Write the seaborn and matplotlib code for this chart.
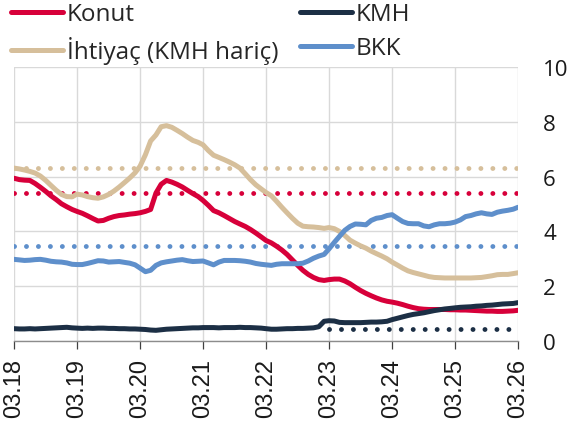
import pandas as pd
import numpy as np
import seaborn as sns
import matplotlib.pyplot as plt
import matplotlib.dates as mdates

# aylık veriler, 03.18 - 03.26
dates = pd.date_range('2018-03-01', '2026-03-01', freq='MS')

konut = [5.94, 5.89, 5.87, 5.86, 5.75, 5.61, 5.46, 5.30, 5.16, 5.01,
         4.90, 4.80, 4.73, 4.66, 4.57, 4.47, 4.38, 4.40, 4.48, 4.54,
         4.58, 4.60, 4.63, 4.65, 4.68, 4.73, 4.80, 5.40, 5.72, 5.86,
         5.80, 5.72, 5.62, 5.50, 5.38, 5.27, 5.13, 4.95, 4.76, 4.68,
         4.58, 4.47, 4.36, 4.27, 4.18, 4.07, 3.94, 3.80, 3.67, 3.58,
         3.46, 3.32, 3.16, 2.96, 2.76, 2.58, 2.43, 2.32, 2.24, 2.21,
         2.24, 2.26, 2.26, 2.19, 2.09, 1.96, 1.84, 1.74, 1.65, 1.57,
         1.50, 1.45, 1.42, 1.38, 1.33, 1.27, 1.22, 1.18, 1.16, 1.15,
         1.15, 1.15, 1.15, 1.14, 1.14, 1.13, 1.13, 1.12, 1.11, 1.10,
         1.09, 1.09, 1.08, 1.08, 1.09, 1.10, 1.12]

ihtiyac = [6.31, 6.28, 6.24, 6.19, 6.13, 6.02, 5.86, 5.68, 5.50, 5.35,
           5.27, 5.26, 5.36, 5.33, 5.27, 5.23, 5.21, 5.26, 5.35, 5.47,
           5.62, 5.78, 5.95, 6.14, 6.38, 6.80, 7.30, 7.52, 7.82, 7.86,
           7.80, 7.69, 7.57, 7.44, 7.32, 7.25, 7.16, 6.95, 6.78, 6.70,
           6.62, 6.53, 6.43, 6.31, 6.10, 5.89, 5.70, 5.55, 5.42, 5.30,
           5.10, 4.88, 4.68, 4.48, 4.30, 4.19, 4.17, 4.16, 4.14, 4.11,
           4.14, 4.10, 4.00, 3.85, 3.68, 3.57, 3.47, 3.39, 3.28, 3.19,
           3.10, 3.00, 2.88, 2.77, 2.66, 2.56, 2.50, 2.45, 2.40, 2.35,
           2.32, 2.31, 2.30, 2.30, 2.30, 2.30, 2.30, 2.30, 2.31, 2.32,
           2.35, 2.38, 2.42, 2.43, 2.43, 2.46, 2.49]

kmh = [0.45, 0.44, 0.44, 0.45, 0.44, 0.45, 0.46, 0.47, 0.48, 0.49,
       0.50, 0.48, 0.47, 0.46, 0.47, 0.46, 0.47, 0.47, 0.46, 0.46,
       0.45, 0.45, 0.44, 0.44, 0.43, 0.42, 0.40, 0.39, 0.41, 0.43,
       0.44, 0.45, 0.46, 0.47, 0.48, 0.48, 0.49, 0.49, 0.49, 0.48,
       0.49, 0.49, 0.49, 0.50, 0.49, 0.49, 0.48, 0.47, 0.45, 0.43,
       0.43, 0.44, 0.45, 0.45, 0.46, 0.46, 0.47, 0.48, 0.52, 0.72,
       0.74, 0.73, 0.68, 0.67, 0.67, 0.67, 0.67, 0.68, 0.69, 0.69,
       0.70, 0.72, 0.78, 0.83, 0.88, 0.93, 0.97, 1.00, 1.03, 1.07,
       1.11, 1.14, 1.17, 1.19, 1.21, 1.23, 1.24, 1.25, 1.27, 1.28,
       1.30, 1.31, 1.33, 1.35, 1.36, 1.37, 1.40]

bkk = [2.98, 2.96, 2.94, 2.95, 2.97, 2.98, 2.95, 2.91, 2.89, 2.88,
       2.85, 2.80, 2.79, 2.79, 2.83, 2.88, 2.93, 2.92, 2.88, 2.89,
       2.90, 2.87, 2.84, 2.78, 2.66, 2.53, 2.58, 2.76, 2.85, 2.89,
       2.92, 2.95, 2.97, 2.93, 2.90, 2.91, 2.92, 2.85, 2.78, 2.88,
       2.94, 2.94, 2.94, 2.93, 2.91, 2.88, 2.83, 2.80, 2.78, 2.76,
       2.80, 2.82, 2.82, 2.82, 2.82, 2.84, 2.92, 3.02, 3.10, 3.16,
       3.36, 3.60, 3.82, 4.04, 4.18, 4.27, 4.26, 4.24, 4.40, 4.48,
       4.51, 4.58, 4.61, 4.48, 4.36, 4.29, 4.28, 4.28, 4.20, 4.17,
       4.24, 4.28, 4.28, 4.30, 4.34, 4.42, 4.54, 4.58, 4.64, 4.68,
       4.64, 4.62, 4.70, 4.74, 4.77, 4.81, 4.88]

# ortalamalar (noktalı çizgiler)
avg_konut = 5.39
avg_ihtiyac = 6.33
avg_bkk = 3.48
avg_kmh = 0.43
kmh_avg_start = '2023-03-01'

labels = ['Konut', 'İhtiyaç (KMH hariç)', 'KMH', 'BKK']
colors = ['#d7003a', '#d6bf9b', '#1c2f45', '#5e8fcb']
series = [konut, ihtiyac, kmh, bkk]

sns.set_style('white')
plt.rcParams['font.family'] = ['Open Sans', 'DejaVu Sans']

fig = plt.figure(figsize=(5.69, 4.27), dpi=100)
ax = fig.add_axes([14 / 569, 85 / 427, 504 / 569, 274 / 427])

dot_style = (0, (0.01, 2.45))
avg_vals = [avg_konut, avg_ihtiyac, avg_kmh, avg_bkk]
for lab, col, vals, avg in zip(labels, colors, series, avg_vals):
    d = dates if lab != 'KMH' else dates[dates >= kmh_avg_start]
    sns.lineplot(x=d, y=np.full(len(d), avg), ax=ax, color=col,
                 linewidth=3.5, linestyle=dot_style, dash_capstyle='round')

draw_order = [1, 0, 3, 2]
handles = {}
for i in draw_order:
    sns.lineplot(x=dates, y=series[i], ax=ax, color=colors[i],
                 linewidth=3.6, label=labels[i])
    handles[labels[i]] = ax.lines[-1]
ax.get_legend().remove()

ax.set_xlim(dates[0], dates[-1])
ax.set_ylim(0, 10)
ax.set_yticks(range(0, 11, 2))
ax.xaxis.set_major_locator(mdates.MonthLocator(bymonth=3))
ax.xaxis.set_major_formatter(mdates.DateFormatter('%m.%y'))
ax.yaxis.tick_right()

ax.grid(True, color='#d9d9d9', linewidth=1)
ax.set_axisbelow(True)
for s in ['left', 'right', 'top']:
    ax.spines[s].set_visible(False)
ax.spines['bottom'].set_color('#8c8c8c')
ax.spines['bottom'].set_linewidth(1)

ax.tick_params(axis='x', direction='out', length=6, width=0.9, color='#404040',
               pad=6, labelrotation=90, labelsize=17, labelcolor='#1a1a1a', bottom=True)
for t in ax.get_xticklabels():
    t.set_family('Liberation Sans')
ax.tick_params(axis='y', length=0, pad=18, labelsize=16, labelcolor='#1a1a1a')
ax.set_xlabel('')
ax.set_ylabel('')

fig.legend([handles[l] for l in labels], labels, ncol=2, loc='upper left',
           bbox_to_anchor=(10 / 569, 1 - 2 / 427), frameon=False, fontsize=17.5,
           handlelength=2.14, handletextpad=0.14, columnspacing=0.9,
           labelspacing=0.41, borderpad=0.05, borderaxespad=0)

fig.savefig('out.png', dpi=100)
